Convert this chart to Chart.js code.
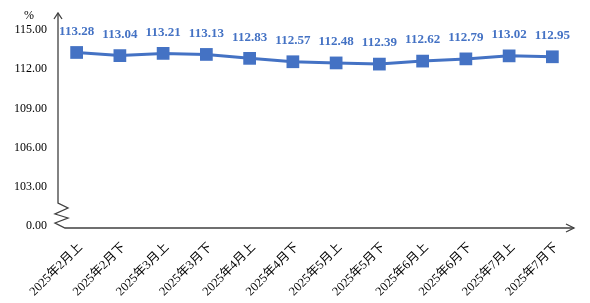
<!DOCTYPE html>
<html>
<head>
<meta charset="utf-8">
<script src="https://cdn.jsdelivr.net/npm/chart.js@4"></script>
<style>
  html, body { margin: 0; padding: 0; background: #fff; }
  #wrap { width: 590px; height: 303px; position: relative; }
</style>
</head>
<body>
<div id="wrap"><canvas id="myChart"></canvas></div>
<script>
	// 분류(가로축)
	const periods = ['2025年2月上', '2025年2月下', '2025年3月上', '2025年3月下', '2025年4月上', '2025年4月下',
		'2025年5月上', '2025年5月下', '2025年6月上', '2025年6月下', '2025年7月上', '2025年7月下'];
	// 값
	const values = [113.28, 113.04, 113.21, 113.13, 112.83, 112.57, 112.48, 112.39, 112.62, 112.79, 113.02, 112.95];
	// 세로축 눈금 (100 자리는 축 끊김 표시로 0.00)
	const yTickValues = [100, 103, 106, 109, 112, 115];
	const yTickLabels = ['0.00', '103.00', '106.00', '109.00', '112.00', '115.00'];

	const blue = '#4472C4';
	const axisColor = '#404040';

	// 축 화살표, 끊김 표시, 값 라벨
	const axisPlugin = {
		id: 'axisDeco',
		afterDraw(chart) {
			const c = chart.ctx;
			const a = chart.chartArea;
			const ax = a.left + 3;
			const ay = a.bottom + 2;
			c.save();
			c.strokeStyle = axisColor;
			c.lineWidth = 1.3;
			c.beginPath();
			// y축 + 지그재그
			c.moveTo(ax, 13);
			c.lineTo(ax, ay - 25);
			c.lineTo(ax + 10, ay - 20);
			c.lineTo(ax - 3, ay - 14);
			c.lineTo(ax + 10, ay - 10);
			c.lineTo(ax - 3, ay - 5);
			c.lineTo(ax + 7, ay);
			// x축
			c.lineTo(a.right, ay);
			c.stroke();
			// 화살표
			c.beginPath();
			c.moveTo(ax - 4, 19);
			c.lineTo(ax, 13);
			c.lineTo(ax + 4, 19);
			c.moveTo(a.right - 8, ay - 4);
			c.lineTo(a.right, ay);
			c.lineTo(a.right - 8, ay + 4);
			c.stroke();
			// %
			c.fillStyle = '#000';
			c.font = '12px "Liberation Serif", serif';
			c.textAlign = 'center';
			c.textBaseline = 'middle';
			c.fillText('%', 29, 16);
			// 값 라벨
			const meta = chart.getDatasetMeta(0);
			c.fillStyle = blue;
			c.font = 'bold 13px "Liberation Serif", serif';
			meta.data.forEach((pt, i) => {
				c.fillText(values[i].toFixed(2), pt.x, pt.y - 21);
			});
			c.restore();
		}
	};

	const ctx = document.querySelector('#myChart');
	const chart = new Chart(ctx, {
		type: 'line',
		data: {
			labels: periods,
			datasets: [{
				data: values,
				borderColor: blue,
				backgroundColor: blue,
				borderWidth: 3,
				pointStyle: 'rect',
				pointRadius: 9,
				pointBorderWidth: 0,
				tension: 0
			}]
		},
		options: {
			responsive: true,
			maintainAspectRatio: false,
			animation: false,
			layout: { padding: { top: 30, right: 16, left: 0, bottom: 0 } },
			plugins: { legend: { display: false }, tooltip: { enabled: false } },
			scales: {
				x: {
					offset: true,
					grid: { display: false, drawTicks: false },
					border: { display: false },
					afterFit: s => { s.height = 77; },
					ticks: {
						color: '#000',
						autoSkip: false,
						maxRotation: 45,
						minRotation: 45,
						padding: 14,
						labelOffset: 4,
						font: { family: '"Liberation Serif", "Noto Sans CJK SC", serif', size: 12.5 }
					}
				},
				y: {
					min: 100,
					max: 115,
					grid: { display: false, drawTicks: false },
					border: { display: false },
					afterFit: s => { s.width = 55; },
					afterBuildTicks: s => { s.ticks = yTickValues.map(v => ({ value: v })); },
					ticks: {
						color: '#000',
						padding: 8,
						font: { family: '"Liberation Serif", serif', size: 12 },
						callback: v => yTickLabels[yTickValues.indexOf(v)]
					}
				}
			}
		},
		plugins: [axisPlugin]
	});
</script>
</body>
</html>
